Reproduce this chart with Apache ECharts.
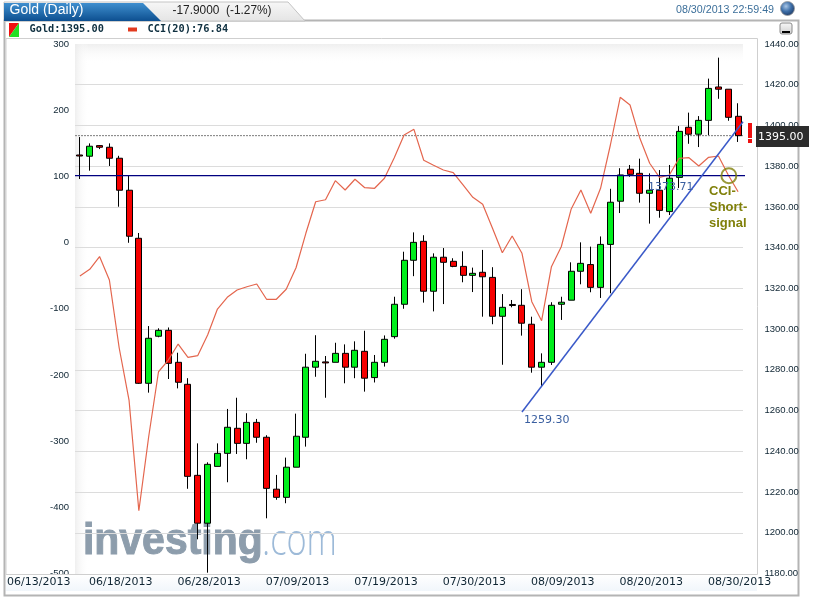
<!DOCTYPE html>
<html>
<head>
<meta charset="utf-8">
<style>html,body{margin:0;padding:0;background:#fff}#c{width:813px;height:597px}</style>
<script src="https://cdn.jsdelivr.net/npm/echarts@6/dist/echarts.min.js"></script>
</head>
<body>
<div id="c"></div>
<script>
const dates = ["06/13/2013","06/14/2013","06/16/2013","06/17/2013","06/18/2013","06/19/2013","06/20/2013","06/21/2013","06/23/2013","06/24/2013","06/25/2013","06/26/2013","06/27/2013","06/28/2013","06/30/2013","07/01/2013","07/02/2013","07/03/2013","07/04/2013","07/05/2013","07/07/2013","07/08/2013","07/09/2013","07/10/2013","07/11/2013","07/12/2013","07/14/2013","07/15/2013","07/16/2013","07/17/2013","07/18/2013","07/19/2013","07/21/2013","07/22/2013","07/23/2013","07/24/2013","07/25/2013","07/26/2013","07/28/2013","07/29/2013","07/30/2013","07/31/2013","08/01/2013","08/02/2013","08/04/2013","08/05/2013","08/06/2013","08/07/2013","08/08/2013","08/09/2013","08/11/2013","08/12/2013","08/13/2013","08/14/2013","08/15/2013","08/16/2013","08/18/2013","08/19/2013","08/20/2013","08/21/2013","08/22/2013","08/23/2013","08/25/2013","08/26/2013","08/27/2013","08/28/2013","08/29/2013","08/30/2013"];
const opens = [1385.5,1384.9,1390.1,1389.3,1383.9,1368.2,1344.6,1273.4,1296.5,1299.4,1283.7,1272.9,1228.2,1204.7,1232.6,1239.0,1251.3,1243.9,1254.2,1246.9,1221.4,1217.4,1232.2,1246.9,1281.3,1283.9,1283.7,1288.1,1281.3,1289.1,1276.2,1283.7,1296.3,1312.2,1333.8,1343.1,1318.6,1335.3,1333.3,1330.8,1326.4,1327.9,1325.4,1306.3,1312.1,1311.7,1302.4,1281.3,1283.7,1312.2,1314.2,1328.4,1331.7,1320.5,1341.6,1362.8,1378.5,1376.5,1366.7,1368.2,1357.7,1374.5,1399.1,1395.7,1402.5,1418.9,1417.8,1404.5];
const closes = [1385.0,1389.8,1389.3,1383.9,1368.2,1345.6,1273.4,1295.5,1299.4,1283.2,1273.9,1227.7,1204.7,1233.6,1239.0,1251.8,1243.9,1254.2,1246.9,1221.8,1217.4,1232.2,1247.4,1281.3,1284.2,1283.4,1288.1,1281.3,1289.6,1275.9,1283.7,1295.0,1312.2,1333.8,1342.6,1318.6,1335.3,1332.8,1330.8,1326.4,1327.4,1325.7,1306.3,1310.7,1311.6,1302.9,1281.3,1283.7,1311.7,1313.2,1328.4,1332.3,1320.5,1341.6,1362.3,1375.7,1376.0,1366.7,1368.2,1358.3,1374.1,1397.1,1395.7,1402.5,1418.2,1417.8,1404.0,1395.0];
const lows = [1373.7,1377.8,1388.4,1380.1,1360.1,1342.4,1273.1,1268.8,1296.0,1275.5,1270.9,1221.6,1196.8,1180.4,1232.6,1224.8,1238.7,1236.1,1244.2,1207.1,1216.2,1214.5,1232.2,1242.3,1276.6,1266.3,1283.7,1273.4,1275.9,1269.3,1273.8,1281.6,1295.3,1310.0,1326.0,1313.0,1308.7,1312.3,1330.4,1323.0,1318.2,1306.1,1302.4,1282.5,1310.7,1296.8,1278.6,1271.7,1282.4,1304.5,1314.2,1322.0,1318.1,1315.3,1317.6,1357.0,1374.8,1362.1,1351.8,1354.7,1356.0,1369.3,1391.0,1389.4,1395.3,1413.1,1402.3,1391.9];
const highs = [1394.3,1391.2,1390.4,1391.2,1385.1,1375.5,1347.2,1301.5,1300.4,1300.8,1288.4,1275.9,1243.9,1234.6,1243.9,1260.8,1266.3,1258.7,1255.9,1247.9,1228.4,1236.9,1258.5,1287.9,1297.0,1286.8,1293.3,1292.5,1294.0,1299.2,1287.3,1296.9,1315.9,1338.0,1347.5,1346.1,1337.2,1339.8,1334.8,1338.2,1330.2,1338.9,1330.4,1317.2,1314.3,1319.6,1306.1,1288.1,1313.2,1315.9,1332.8,1342.6,1340.5,1345.5,1368.9,1379.0,1380.6,1383.7,1376.5,1378.1,1380.6,1399.7,1406.3,1404.6,1423.0,1433.3,1417.8,1410.9];
const cci = [-50.5,-40.4,-21.1,-56.6,-159.3,-237.9,-405.2,-293.4,-195.2,-177.5,-153.3,-173.4,-170.7,-139.7,-100.4,-82.7,-71.7,-66.7,-62.6,-85.7,-85.7,-70.6,-38.0,14.0,61.7,64.7,93.5,79.4,95.7,82.9,82.0,97.1,128.2,162.5,171.1,124.3,116.7,109.6,105.6,87.0,68.4,57.8,21.5,-15.3,9.9,-16.2,-89.4,-118.1,-36.5,-6.3,50.2,79.4,44.2,82.0,147.4,219.5,207.8,157.5,119.8,98.6,102.1,127.3,128.2,115.7,128.8,130.8,102.1,76.84];
const trendLine = [[45,1259.3],[67.5,1401.8]];
const cciLevel = [[-0.5,101],[71.7,101]];
const lastPrice = [[-0.5,1395],[67.5,1395]];
const signalCircle = [[66.06,101]];

const ink = '#0f2533';
const fontAxis = '"Liberation Sans", Arial, sans-serif';
const T = (text,x,y,font,fill,extra) => Object.assign({type:'text',x,y,z:40,style:{text,font,fill,textAlign:'left',textVerticalAlign:'middle'}},extra||{});
const lg = (x2,y2,stops) => ({type:'linear',x:0,y:0,x2,y2,colorStops:stops.map((c,i)=>({offset:i/(stops.length-1),color:c}))});

const chart = echarts.init(document.getElementById('c'),null,{renderer:'canvas'});
chart.setOption({
  animation:false,
  backgroundColor:'#fff',
  grid:{left:75,width:668,top:44,height:529.5,containLabel:false},
  xAxis:[
    {type:'category',data:dates,boundaryGap:true,z:6,axisLine:{show:false},axisTick:{show:false},splitLine:{show:false},
     axisLabel:{interval:i=>i>=4&&(i-4)%9===0,margin:3,padding:[0,0,0,3],color:ink,fontSize:11,fontFamily:'"DejaVu Sans"',showMaxLabel:true,hideOverlap:false}},
    {type:'value',min:-0.5,max:67.5,show:false,splitLine:{show:false}}
  ],
  yAxis:[
    {type:'value',min:-500,max:300,interval:100,position:'left',z:1,axisLine:{show:false},axisTick:{show:false},splitLine:{show:false},
     axisLabel:{margin:6,color:ink,fontSize:9.5,fontFamily:fontAxis,showMinLabel:true,showMaxLabel:true}},
    {type:'value',min:1180,max:1440,interval:20,position:'right',z:1,axisLine:{show:false},axisTick:{show:false},
     splitLine:{show:true,lineStyle:{color:'#dcdcdc',width:1},showMinLine:false,showMaxLine:false},
     axisLabel:{margin:21.5,color:ink,fontSize:9.5,fontFamily:fontAxis,formatter:v=>v.toFixed(2)}}
  ],
  series:[
    {name:'Gold',type:'candlestick',xAxisIndex:0,yAxisIndex:1,z:3,barWidth:6.5,
     data:dates.map((d,i)=>[opens[i],closes[i],lows[i],highs[i]]),
     itemStyle:{color:'#00ee1c',color0:'#f60000',borderColor:'#000',borderColor0:'#000',borderColorDoji:'#000',borderWidth:1}},
    {name:'Last',type:'line',xAxisIndex:1,yAxisIndex:1,z:2,data:lastPrice,symbol:'none',lineStyle:{color:'#7c7c7c',width:1,type:[2,1]}},
    {name:'CCI(20)',type:'line',xAxisIndex:0,yAxisIndex:0,z:4,data:cci,symbol:'none',lineStyle:{color:'#e4664e',width:1.2}},
    {name:'Level',type:'line',xAxisIndex:1,yAxisIndex:0,z:5,clip:false,data:cciLevel,symbol:'none',lineStyle:{color:'#000080',width:1.2}},
    {name:'Trend',type:'line',xAxisIndex:1,yAxisIndex:1,z:5,data:trendLine,symbol:'none',lineStyle:{color:'#3a59c8',width:1.5}},
    {name:'Signal',type:'scatter',xAxisIndex:1,yAxisIndex:0,z:7,data:signalCircle,symbol:'circle',symbolSize:15,
     itemStyle:{color:'rgba(0,0,0,0)',borderColor:'#80800a',borderWidth:2}}
  ],
  graphic:{elements:[
    // plot background shading
    {type:'rect',z:-2,shape:{x:75,y:44,width:668,height:20},style:{fill:lg(0,1,['rgba(235,235,235,0.8)','rgba(255,255,255,0)'])}},
    {type:'rect',z:-2,shape:{x:75,y:44,width:14,height:530},style:{fill:lg(1,0,['rgba(235,235,235,0.8)','rgba(255,255,255,0)'])}},
    // watermark
    {type:'text',z:-1,x:83,y:542,scaleX:0.93,style:{text:'investing',font:'bold 44px "Liberation Sans"',fill:'#8d9dac',stroke:'#8d9dac',lineWidth:1,textVerticalAlign:'middle'}},
    {type:'text',z:-1,x:262,y:542,scaleX:0.78,style:{text:'.com',font:'300 44px "Open Sans"',fill:'#9dbad8',textVerticalAlign:'middle'}},
    // frames
    {type:'rect',z:1,shape:{x:4.5,y:20.5,width:794,height:575},style:{fill:'none',stroke:'#b4b4b4',lineWidth:2}},
    {type:'polyline',z:2,shape:{points:[[6,38.5],[757.5,38.5],[757.5,574.5],[6,574.5],[6,38.5]]},style:{fill:'none',stroke:'#cfcfcf',lineWidth:1}},
    {type:'rect',z:2,shape:{x:6,y:575,width:751,height:16},style:{fill:lg(0,1,['#ffffff','#f1f6fb'])}},
    // title tabs
    {type:'polygon',z:3,shape:{points:[[4,2],[288,2],[305,21],[4,21]]},style:{fill:lg(0,1,['#f7f7f7','#e4e4e4']),stroke:'#c4c4c4',lineWidth:1}},
    {type:'polygon',z:4,shape:{points:[[4,3],[143,3],[161,21],[4,21]]},style:{fill:lg(0,1,['#3f8fcf','#0d4f90'])}},
    T('Gold (Daily)',9.5,10.5,'14px "Liberation Sans"','#ffffff'),
    T('-17.9000  (-1.27%)',172.5,10.5,'13.5px "Liberation Sans"','#222222',{scaleX:0.88}),
    T('08/30/2013 22:59:49',676,10.5,'10.7px "Liberation Sans"','#3c6f9a'),
    {type:'circle',z:5,shape:{cx:787.5,cy:8.5,r:7},style:{fill:{type:'radial',x:0.4,y:0.35,r:0.7,colorStops:[{offset:0,color:'#a9c6e6'},{offset:0.5,color:'#3e6fa8'},{offset:1,color:'#1a3560'}]},stroke:'#9a9a9a',lineWidth:0.8}},
    // legend row
    {type:'polygon',z:5,shape:{points:[[9,23],[19,23],[9,37]]},style:{fill:'#f01010'}},
    {type:'polygon',z:5,shape:{points:[[19,23],[19,37],[9,37]]},style:{fill:'#22e022'}},
    T('Gold:1395.00',29.5,29.5,'bold 10.3px "DejaVu Sans Mono"','#0f3040'),
    {type:'rect',z:5,shape:{x:128,y:27.5,width:9,height:4},style:{fill:'#e23a1e'}},
    T('CCI(20):76.84',147.5,29.5,'bold 10.3px "DejaVu Sans Mono"','#0f3040'),
    // minimise button
    {type:'rect',z:5,shape:{x:780,y:23,width:12,height:11,r:2},style:{fill:lg(0,1,['#f8f8f8','#cfcfcf']),stroke:'#8a8a8a',lineWidth:1}},
    {type:'rect',z:6,shape:{x:782,y:31,width:8,height:2},style:{fill:'#000'}},
    // first date label, outside the plot area
    T(dates[0],7,582.5,'11px "DejaVu Sans"',ink),
    // last price tag and warning mark
    {type:'rect',z:8,shape:{x:756,y:126,width:53,height:21},style:{fill:'#2c2c2c'}},
    T('1395.00',758,137,'11px "DejaVu Sans"','#ffffff',{z:9}),
    {type:'rect',z:8,shape:{x:748,y:123,width:4,height:15},style:{fill:'#ee1010'}},
    {type:'rect',z:8,shape:{x:748,y:139,width:4,height:4},style:{fill:'#ee1010'}},
    // trend line value labels
    T('1259.30',524,420,'11px "DejaVu Sans"','#3a5fa0'),
    T('1373.71',648,187,'11px "DejaVu Sans"','#3a5fa0'),
    // annotation
    T('CCI-',709,191,'bold 13px "Liberation Sans"','#80800a'),
    T('Short-',709,207.5,'bold 13px "Liberation Sans"','#80800a'),
    T('signal',709,223.5,'bold 13px "Liberation Sans"','#80800a')
  ]}
});
</script>
</body>
</html>
